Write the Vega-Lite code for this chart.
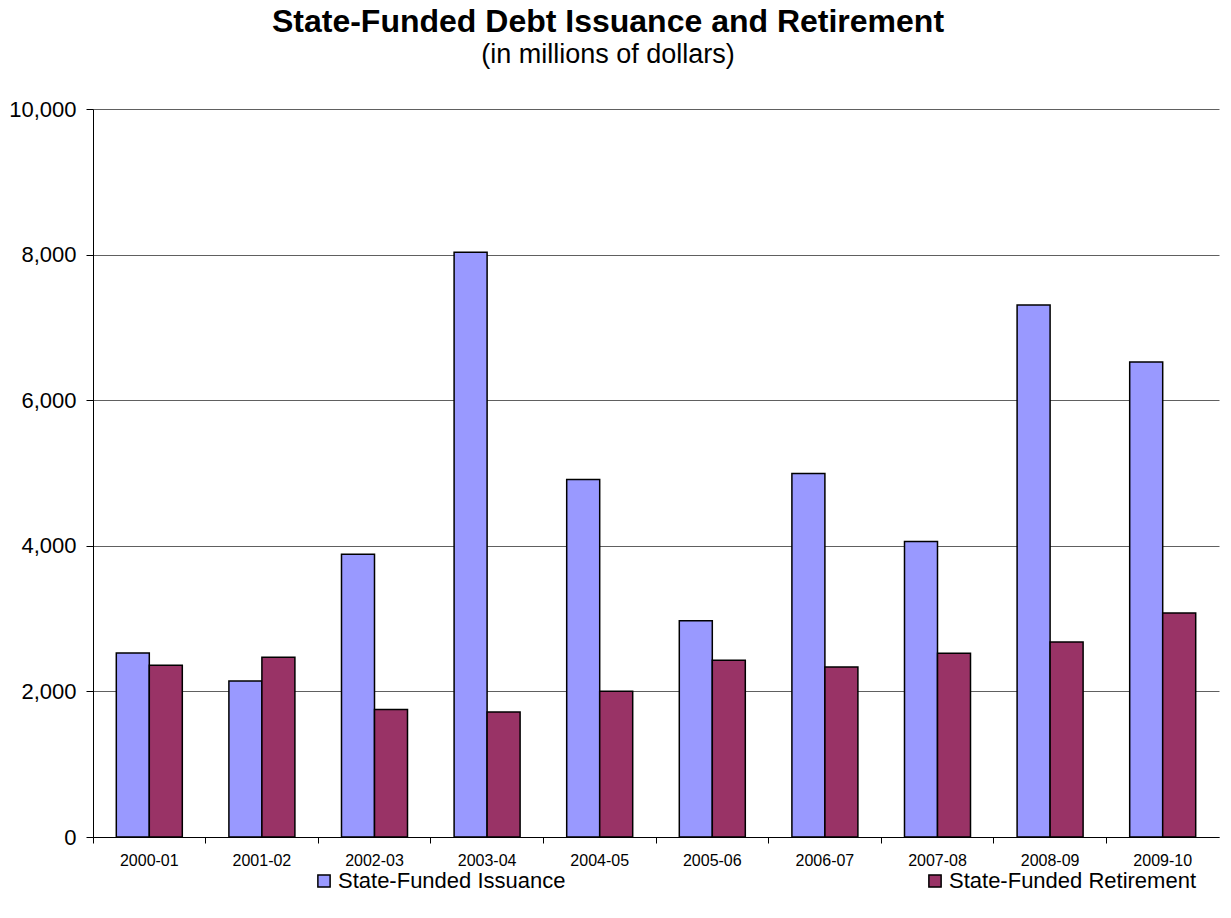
{
  "$schema": "https://vega.github.io/schema/vega-lite/v6.json",
  "autosize": "none",
  "padding": {"left": 93, "top": 109, "right": 12, "bottom": 81},
  "width": 1126,
  "height": 728,
  "background": "white",
  "config": {
    "font": "Liberation Sans",
    "view": {"stroke": null}
  },
  "title": {
    "text": "State-Funded Debt Issuance and Retirement",
    "subtitle": "(in millions of dollars)",
    "font": "Liberation Sans",
    "fontSize": 32,
    "fontWeight": "bold",
    "color": "black",
    "subtitleFont": "Liberation Sans",
    "subtitleFontSize": 27,
    "subtitleColor": "black",
    "subtitlePadding": 3,
    "anchor": "middle",
    "dx": -48,
    "offset": 29
  },
  "data": {
    "values": [
      {"year": "2000-01", "series": "State-Funded Issuance", "value": 2527},
      {"year": "2000-01", "series": "State-Funded Retirement", "value": 2358},
      {"year": "2001-02", "series": "State-Funded Issuance", "value": 2143},
      {"year": "2001-02", "series": "State-Funded Retirement", "value": 2468},
      {"year": "2002-03", "series": "State-Funded Issuance", "value": 3883},
      {"year": "2002-03", "series": "State-Funded Retirement", "value": 1752},
      {"year": "2003-04", "series": "State-Funded Issuance", "value": 8032},
      {"year": "2003-04", "series": "State-Funded Retirement", "value": 1716},
      {"year": "2004-05", "series": "State-Funded Issuance", "value": 4912},
      {"year": "2004-05", "series": "State-Funded Retirement", "value": 2001},
      {"year": "2005-06", "series": "State-Funded Issuance", "value": 2972},
      {"year": "2005-06", "series": "State-Funded Retirement", "value": 2427},
      {"year": "2006-07", "series": "State-Funded Issuance", "value": 4992},
      {"year": "2006-07", "series": "State-Funded Retirement", "value": 2335},
      {"year": "2007-08", "series": "State-Funded Issuance", "value": 4058},
      {"year": "2007-08", "series": "State-Funded Retirement", "value": 2523},
      {"year": "2008-09", "series": "State-Funded Issuance", "value": 7308},
      {"year": "2008-09", "series": "State-Funded Retirement", "value": 2679},
      {"year": "2009-10", "series": "State-Funded Issuance", "value": 6525},
      {"year": "2009-10", "series": "State-Funded Retirement", "value": 3077}
    ]
  },
  "mark": {"type": "bar", "stroke": "black", "strokeWidth": 1.5},
  "encoding": {
    "x": {
      "field": "year",
      "type": "nominal",
      "sort": null,
      "title": null,
      "scale": {"paddingInner": 0, "paddingOuter": 0},
      "axis": {
        "labelAngle": 0,
        "labelFontSize": 16,
        "labelColor": "black",
        "labelPadding": 9,
        "domainColor": "black",
        "domainWidth": 1,
        "tickColor": "black",
        "tickSize": 6,
        "bandPosition": 0
      }
    },
    "xOffset": {
      "field": "series",
      "type": "nominal",
      "sort": ["State-Funded Issuance", "State-Funded Retirement"],
      "scale": {"paddingInner": 0, "paddingOuter": 0.706}
    },
    "y": {
      "field": "value",
      "type": "quantitative",
      "title": null,
      "scale": {"domain": [0, 10000], "nice": false},
      "axis": {
        "values": [0, 2000, 4000, 6000, 8000, 10000],
        "format": ",.0f",
        "labelFontSize": 22,
        "labelColor": "black",
        "labelPadding": 10,
        "domainColor": "black",
        "domainWidth": 1,
        "tickColor": "black",
        "tickSize": 7,
        "gridColor": "#606060",
        "gridWidth": 1,
        "gridOpacity": 1
      }
    },
    "color": {
      "field": "series",
      "type": "nominal",
      "title": null,
      "scale": {
        "domain": ["State-Funded Issuance", "State-Funded Retirement"],
        "range": ["#9999FF", "#993366"]
      },
      "legend": {
        "orient": "none",
        "legendX": 220,
        "legendY": 761,
        "direction": "horizontal",
        "columns": 2,
        "columnPadding": 358,
        "symbolType": "square",
        "symbolSize": 150,
        "symbolStrokeColor": "black",
        "symbolStrokeWidth": 1.5,
        "symbolOpacity": 1,
        "labelFontSize": 22,
        "labelColor": "black",
        "labelOffset": 3,
        "labelLimit": 400
      }
    }
  }
}
